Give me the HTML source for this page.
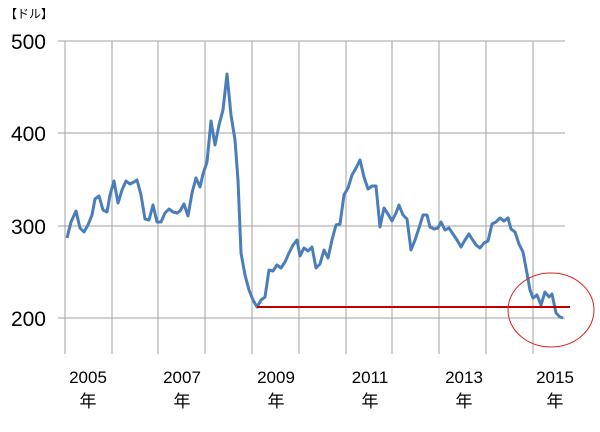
<!DOCTYPE html>
<html><head><meta charset="utf-8"><style>
body{margin:0;background:#fff;}
svg text{font-family:"Liberation Sans","Noto Sans CJK JP",sans-serif;fill:#000;}
</style></head><body>
<svg width="600" height="427" viewBox="0 0 600 427" xmlns="http://www.w3.org/2000/svg">
<text x="5" y="18" font-size="12">【ドル】</text>
<g stroke="#a0a0a0" stroke-width="1">
<line x1="65" y1="41" x2="565" y2="41"/>
<line x1="65" y1="133" x2="565" y2="133"/>
<line x1="65" y1="226" x2="565" y2="226"/>
<line x1="65" y1="318" x2="565" y2="318"/>
<line x1="58" y1="41" x2="65" y2="41"/><line x1="58" y1="133" x2="65" y2="133"/><line x1="58" y1="226" x2="65" y2="226"/><line x1="58" y1="318" x2="65" y2="318"/>
<line x1="65" y1="41" x2="65" y2="354"/>
<line x1="112" y1="41" x2="112" y2="354"/>
<line x1="158" y1="41" x2="158" y2="354"/>
<line x1="205" y1="41" x2="205" y2="354"/>
<line x1="252" y1="41" x2="252" y2="354"/>
<line x1="299" y1="41" x2="299" y2="354"/>
<line x1="346" y1="41" x2="346" y2="354"/>
<line x1="392" y1="41" x2="392" y2="354"/>
<line x1="439" y1="41" x2="439" y2="354"/>
<line x1="486" y1="41" x2="486" y2="354"/>
<line x1="533" y1="41" x2="533" y2="354"/>
</g>
<g font-size="21" text-anchor="end">
<text x="46" y="49">500</text><text x="46" y="141">400</text><text x="46" y="234">300</text><text x="46" y="326">200</text>
</g>
<g font-size="17" text-anchor="middle">
<text x="88" y="383">2005</text><text x="182" y="383">2007</text><text x="276" y="383">2009</text><text x="370" y="383">2011</text><text x="464" y="383">2013</text><text x="555" y="383">2015</text>
<text x="88" y="407">年</text><text x="182" y="407">年</text><text x="276" y="407">年</text><text x="370" y="407">年</text><text x="464" y="407">年</text><text x="555" y="407">年</text>
</g>
<polyline fill="none" stroke="#4a7ebb" stroke-width="3" stroke-linejoin="round" points="67,238 71,222 76,211 80,228 84,232 88,225 92,215 95,199 99,196 103,210 107,212 110,195 114,181 118,203 122,190 126,181 130,184 134,182 137,180 141,195 145,219 149,220 153,205 157,222 161,222 165,213 169,209 173,212 177,213 180,211 184,204 188,216 192,193 196,178 200,187 203,174 207,162 211,121 215,145 219,125 223,110 227,74 231,115 235,140 238,180 241,253 245,275 249,290 253,300 257,307 261,300 265,297 269,270 273,271 277,265 281,268 285,262 289,253 293,245 297,240 300,256 304,248 308,251 312,247 316,268 320,264 324,250 328,258 332,240 336,225 340,224 344,195 348,188 352,175 356,168 360,160 364,177 368,189 372,186 376,186 380,227 384,208 388,214 392,221 396,213 399,205 403,215 407,219 411,250 415,240 419,228 423,215 427,215 430,227 434,229 438,228 441,222 445,230 449,228 453,234 457,240 461,247 465,240 469,234 472,239 476,245 480,248 484,243 488,241 492,224 496,222 500,218 504,221 508,218 511,229 515,232 519,244 523,252 526,268 530,290 533,298 537,295 541,305 545,292 549,297 552,294 556,313 560,317 563,318"/>
<line x1="257" y1="307" x2="570" y2="307" stroke="#c00000" stroke-width="2"/>
<ellipse cx="551" cy="310" rx="43" ry="37" fill="none" stroke="#e02020" stroke-width="1"/>
</svg>
</body></html>
